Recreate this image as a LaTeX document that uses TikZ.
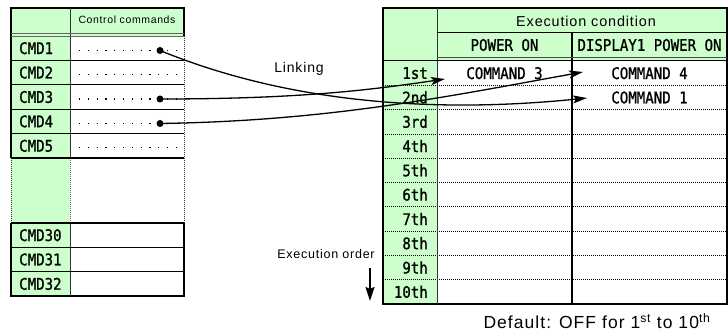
\documentclass[tikz,border=0pt]{standalone}
\usepackage{fontspec}
\setmainfont{Liberation Sans}
\newfontfamily\labelfont[LetterSpace=6]{Liberation Sans}
\newfontfamily\cellfont[FakeStretch=0.88, FakeBold=1]{DejaVu Sans Mono}
\usetikzlibrary{arrows.meta}
\definecolor{cellgreen}{RGB}{204,255,204}

\tikzset{
  frame line/.style={line width=1.3pt},
  row rule/.style={line width=0.7pt, dash pattern=on 1pt off 1pt},
  leader/.style={line width=1.2pt, dash pattern=on 1.2pt off 7.6pt},
  cell text/.style={font=\cellfont\fontsize{16}{18}\selectfont, inner sep=0pt},
  link/.style={line width=1.3pt, -{Stealth[length=14pt,width=8pt,inset=3pt]}},
  link dot/.style={circle, fill=black, inner sep=0pt, minimum size=7pt},
}

\begin{document}
\begin{tikzpicture}[x=1pt, y=-1pt] % pixel coordinates, origin top left
    \useasboundingbox (0,0) rectangle (728,336);

    % Dimensions (adjust as needed)
    \def\rowH{24.4}
    \def\ordH{24.3}

    % ---------------- Left table (commands) ----------------
    \fill[cellgreen] (11,8) rectangle (184,36);
    \fill[cellgreen] (11,36) rectangle (70,296);
    % Outline
    \draw[frame line] (11,158) -- (11,8) -- (184,8) -- (184,36);
    \draw[frame line] (184,223) -- (184,296) -- (11,296) -- (11,223);
    \draw[row rule, black!80] (184,36) -- (184,223);
    \draw[row rule, black!80] (11,158) -- (11,223);
    % Column divider
    \draw[line width=1pt, black!80] (70,8) -- (70,158);
    \draw[row rule, black!60] (70,158) -- (70,223);
    \draw[line width=1pt, black!80] (70,223) -- (70,296);
    % Header double line
    \draw[line width=0.8pt, black!60] (11,33.5) -- (184,33.5);
    \draw[line width=0.8pt, black!60] (11,36) -- (184,36);
    % Row lines
    \foreach \k in {1,...,5} {
        \draw[frame line] (11,36+\k*\rowH) -- (184,36+\k*\rowH);
    }
    \foreach \y in {223, 247.3, 271.7} {
        \draw[frame line] (11,\y) -- (184,\y);
    }
    \node[font=\labelfont\fontsize{10.5}{12}\selectfont] (ctrlhead) at (127,20) {Control commands};

    % Command names and leader dots
    \foreach \k/\name in {1/CMD1, 2/CMD2, 3/CMD3, 4/CMD4, 5/CMD5} {
        \node[cell text, anchor=west] (cmd\k) at (19,36+\k*\rowH-\rowH/2) {\name};
        \draw[leader] (79,38+\k*\rowH-\rowH/2) -- (178,38+\k*\rowH-\rowH/2);
    }
    \foreach \y/\name in {235.2/CMD30, 259.5/CMD31, 283.9/CMD32} {
        \node[cell text, anchor=west] (\name) at (19,\y) {\name};
    }

    % ---------------- Right table (execution condition) ----------------
    \fill[cellgreen] (383,8) rectangle (727,61);
    \fill[cellgreen] (383,61) rectangle (437,304);
    % Dotted row lines
    \foreach \k in {1,...,9} {
        \draw[row rule] (383,61+\k*\ordH) -- (727,61+\k*\ordH);
    }
    % Outline and dividers
    \draw[frame line] (383,8) rectangle (727,304);
    \draw[line width=1pt, black!80] (437,8) -- (437,304);
    \draw[line width=1pt] (437,33) -- (727,33);
    \draw[line width=1.2pt] (572,33) -- (572,304);
    \draw[line width=0.8pt, black!70] (437,57.5) -- (727,57.5);
    \draw[line width=1pt] (383,61) -- (727,61);

    % Header texts
    \node[font=\labelfont\fontsize{14.4}{16}\selectfont] (condhead) at (586,21) {Execution condition};
    \node[cell text] (powerhead) at (504.5,45) {POWER ON};
    \node[cell text] (disphead) at (649.5,45) {DISPLAY1 POWER ON};

    % Execution order labels
    \foreach \k/\ord in {1/1st, 2/2nd, 3/3rd, 4/4th, 5/5th, 6/6th, 7/7th, 8/8th, 9/9th, 10/10th} {
        \node[cell text, anchor=east] (ord\k) at (428,61+\k*\ordH-\ordH/2) {\ord};
    }

    % Linked commands
    \node[cell text] (cmdthree) at (504.5,73.2) {COMMAND 3};
    \node[cell text] (cmdfour) at (649.5,73.2) {COMMAND 4};
    \node[cell text] (cmdone) at (649.5,97.5) {COMMAND 1};

    % ---------------- Linking ----------------
    \node[font=\labelfont\fontsize{14}{16}\selectfont] (linking) at (299,69) {Linking};
    \node[link dot] (dot1) at (160,50.5) {};
    \node[link dot] (dot3) at (160,99) {};
    \node[link dot] (dot4) at (160,123.5) {};
    \coordinate (tgt3) at (445,79);
    \coordinate (tgt4) at (583,72);
    \coordinate (tgt1) at (587,98);
    \draw[link] (dot3.center) .. controls (300,99) and (370,90) .. (tgt3);
    \draw[link] (dot4.center) .. controls (330,121) and (450,96) .. (tgt4);
    \draw[link] (dot1.center) .. controls (310,112) and (470,110) .. (tgt1);

    % Execution order arrow
    \node[font=\labelfont\fontsize{12.5}{14}\selectfont] (orderlbl) at (326,254) {Execution order};
    \coordinate (ordertop) at (370,268);
    \coordinate (orderbot) at (370,301);
    \draw[line width=1.6pt, -{Stealth[length=14pt,width=9pt,inset=2pt]}] (ordertop) -- (orderbot);

    % Default note
    \node[font=\labelfont\fontsize{17.5}{20}\selectfont, anchor=base] (defnote) at (597,329)
        {Default: OFF for 1\textsuperscript{st} to 10\textsuperscript{th}};

\end{tikzpicture}
\end{document}
